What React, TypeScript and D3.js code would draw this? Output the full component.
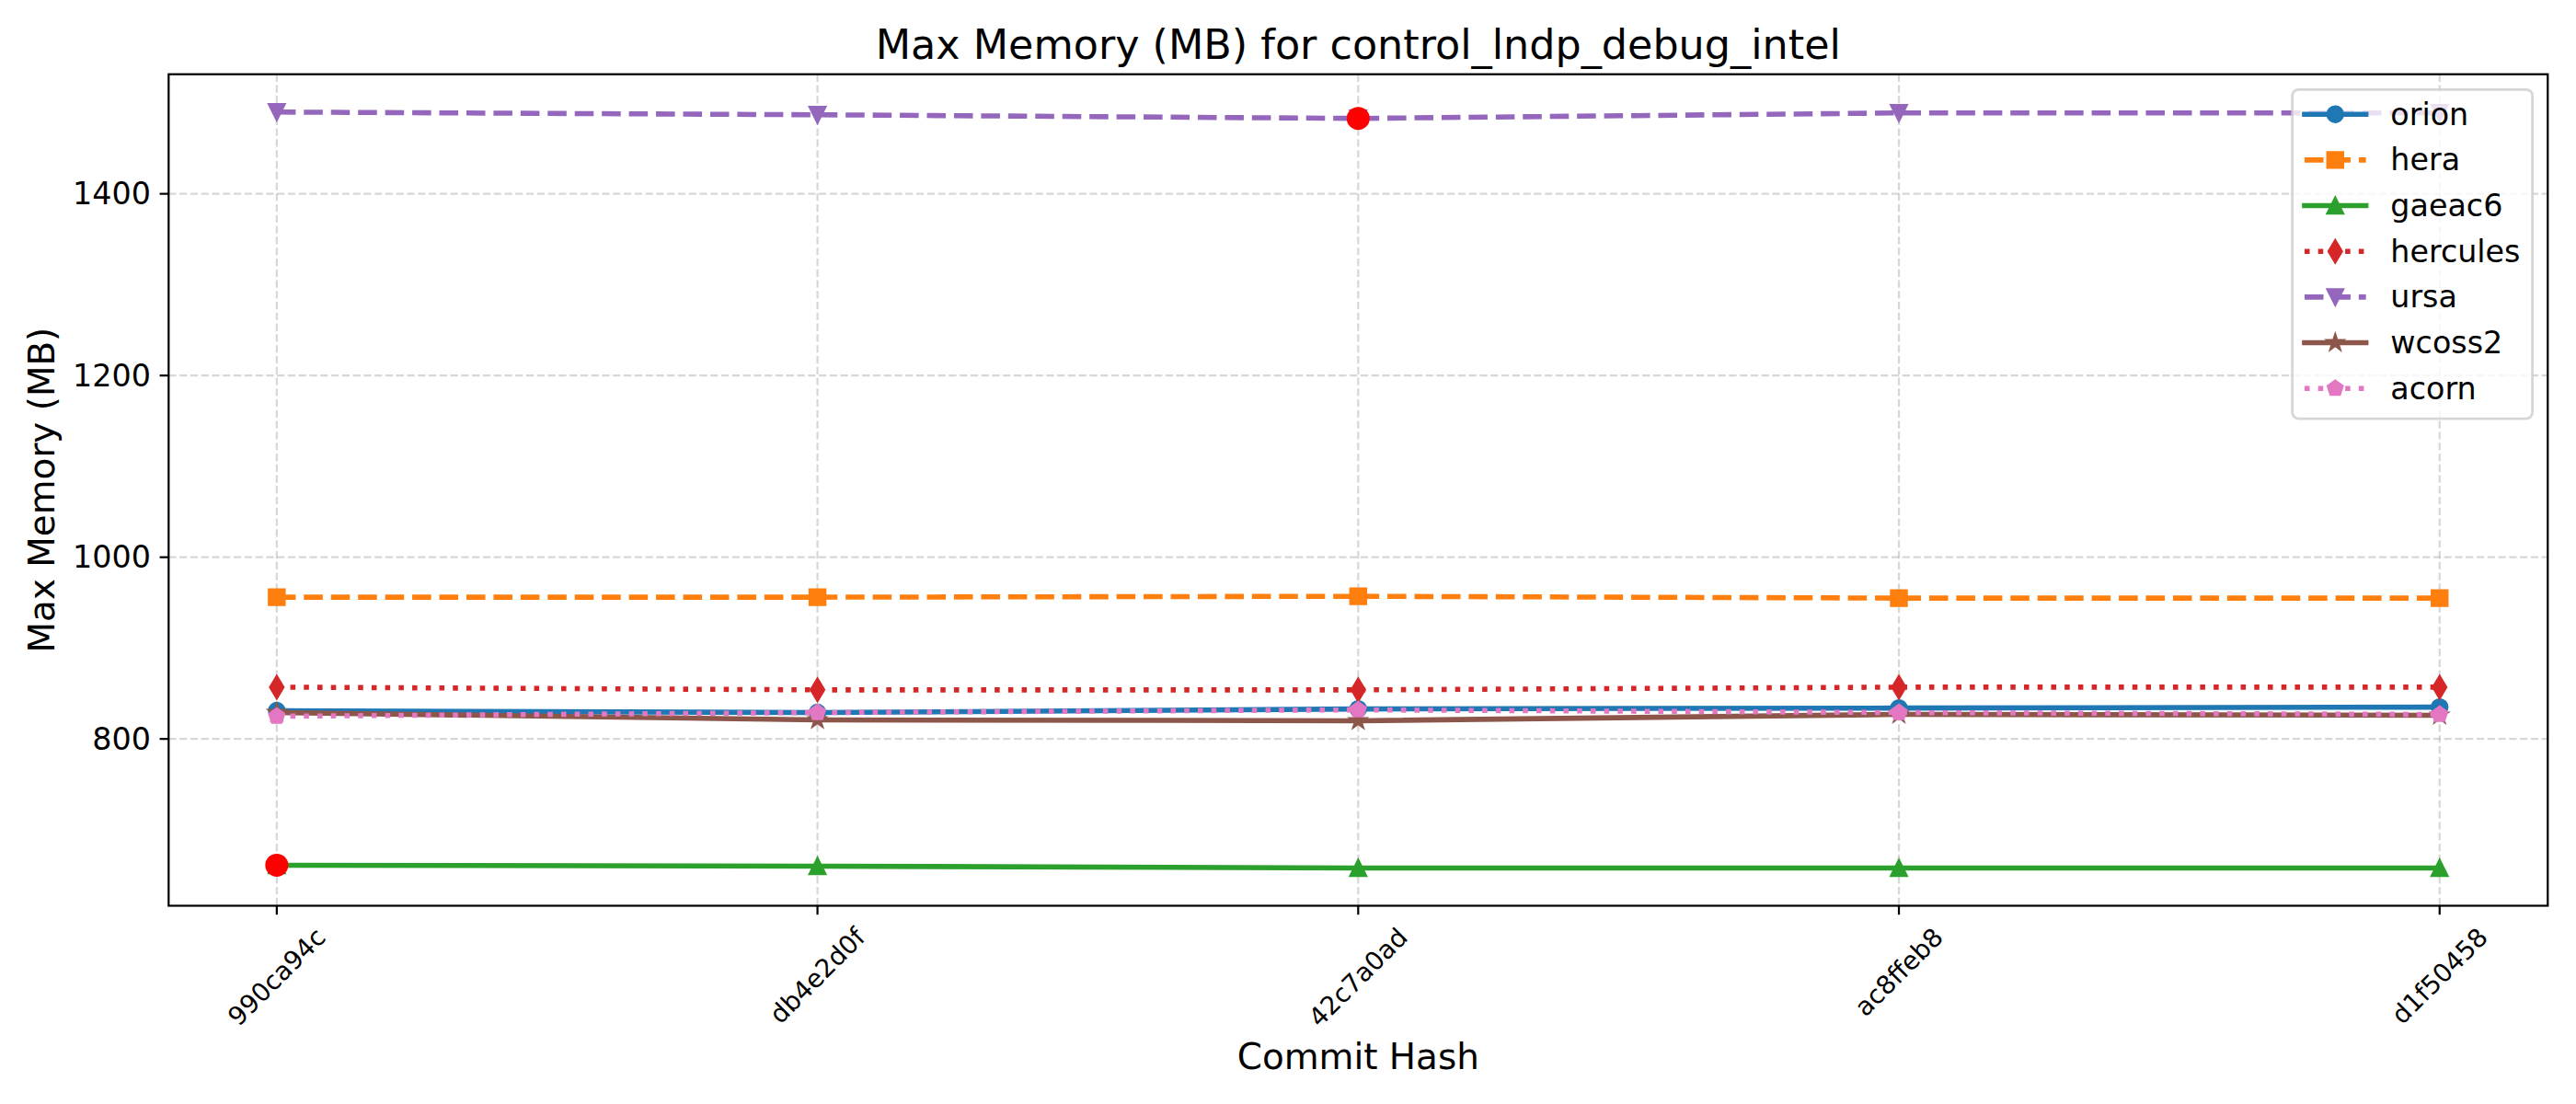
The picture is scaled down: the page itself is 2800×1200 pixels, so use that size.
import React, { useMemo } from 'react';
import * as d3 from 'd3';

const commits = ['990ca94c', 'db4e2d0f', '42c7a0ad', 'ac8ffeb8', 'd1f50458'];
const orion = [831, 829, 833, 834, 835];
const hera = [956, 956, 957, 955, 955];
const gaeac6 = [661, 660, 658, 658, 658];
const hercules = [857, 854, 854, 857, 857];
const ursa = [1490, 1487, 1483, 1489, 1489];
const wcoss2 = [829, 821, 820, 827, 826];
const acorn = [825, 829, 832, 829, 827];
const seriesNames = ['orion', 'hera', 'gaeac6', 'hercules', 'ursa', 'wcoss2', 'acorn'];
const seriesValues = [orion, hera, gaeac6, hercules, ursa, wcoss2, acorn];
const seriesColors = ['#1f77b4', '#ff7f0e', '#2ca02c', '#d62728', '#9467bd', '#8c564b', '#e377c2'];
const seriesMarkers = ['o', 's', '^', 'd', 'v', '*', 'p'];
const seriesDash = ['solid', 'dashed', 'solid', 'dotted', 'dashed', 'solid', 'dotted'];
const highlightSeries = ['gaeac6', 'ursa'];
const highlightIndex = [0, 2];
const yTicks = [800, 1000, 1200, 1400];

const W = 2800;
const H = 1200;
const PT = 200 / 72;
const M = { left: 183.3, right: 2769.3, top: 80.7, bottom: 984.5 };
const FONT = 'DejaVu Sans';
const LW = 2 * PT;
const MS = 6 * PT;
const MEW = 1 * PT;

function dashArray(kind: string): string | undefined {
  if (kind === 'dashed') return `${3.7 * LW} ${1.6 * LW}`;
  if (kind === 'dotted') return `${1 * LW} ${1.65 * LW}`;
  return undefined;
}

function polygon(n: number, r: number, rot = -Math.PI / 2): string {
  const pts: string[] = [];
  for (let i = 0; i < n; i++) {
    const a = rot + (i * 2 * Math.PI) / n;
    pts.push(`${r * Math.cos(a)},${r * Math.sin(a)}`);
  }
  return 'M' + pts.join('L') + 'Z';
}

function star(r: number): string {
  const ri = r * 0.381966;
  const pts: string[] = [];
  for (let i = 0; i < 10; i++) {
    const a = -Math.PI / 2 + (i * Math.PI) / 5;
    const rr = i % 2 === 0 ? r : ri;
    pts.push(`${rr * Math.cos(a)},${rr * Math.sin(a)}`);
  }
  return 'M' + pts.join('L') + 'Z';
}

function markerPath(m: string, ms: number): string {
  const h = ms / 2;
  switch (m) {
    case 'o':
      return `M${h},0A${h},${h} 0 1,1 ${-h},0A${h},${h} 0 1,1 ${h},0Z`;
    case 's':
      return `M${-h},${-h}L${h},${-h}L${h},${h}L${-h},${h}Z`;
    case '^':
      return `M0,${-h}L${-h},${h}L${h},${h}Z`;
    case 'v':
      return `M0,${h}L${-h},${-h}L${h},${-h}Z`;
    case 'd': {
      const dy = ms * Math.SQRT1_2;
      const dx = dy * 0.6;
      return `M0,${-dy}L${dx},0L0,${dy}L${-dx},0Z`;
    }
    case 'p':
      return polygon(5, h);
    case '*':
      return star(h);
    default:
      return '';
  }
}

export default function App() {
  const x = d3.scaleLinear().domain([-0.2, commits.length - 1 + 0.2]).range([M.left, M.right]);
  const all = seriesValues.flat();
  const lo = d3.min(all) as number;
  const hi = d3.max(all) as number;
  const pad = (hi - lo) * 0.05;
  const y = d3.scaleLinear().domain([lo - pad, hi + pad]).range([M.bottom, M.top]);
  const line = d3
    .line<number>()
    .x((_, i) => x(i))
    .y((d) => y(d));

  const xTickFont = 10 * PT;
  const widths = useMemo(() => {
    const c = document.createElement('canvas').getContext('2d');
    if (!c) return commits.map((s) => s.length * 0.6 * xTickFont);
    c.font = `${xTickFont}px "${FONT}"`;
    return commits.map((s) => c.measureText(s).width);
  }, []);

  const tickLen = 3.5 * PT;
  const tickPad = 3.5 * PT;
  const axisLW = 0.8 * PT;

  // legend
  const lfs = 12 * PT;
  const legRight = M.right - 0.5 * lfs;
  const legTop = M.top + 0.5 * lfs;
  const legW = 261;
  const legLeft = legRight - legW;
  const rowH = 33;
  const rowGap = 0.5 * lfs;
  const legH = 2 * 0.4 * lfs + seriesNames.length * rowH + (seriesNames.length - 1) * rowGap;
  const handleX0 = legLeft + 0.4 * lfs;
  const handleX1 = handleX0 + 2 * lfs;
  const textX = handleX1 + 0.8 * lfs;

  return (
    <svg
      width={W}
      height={H}
      viewBox={`0 0 ${W} ${H}`}
      style={{ position: 'absolute', left: 0, top: 0, display: 'block', background: '#fff' }}
      fontFamily={FONT}
    >
      <rect x={0} y={0} width={W} height={H} fill="#fff" />
      {/* grid */}
      <g stroke="#b0b0b0" strokeOpacity={0.5} strokeWidth={0.8 * PT} strokeDasharray={`${3.7 * 0.8 * PT} ${1.6 * 0.8 * PT}`}>
        {commits.map((c, i) => (
          <line key={'gx' + c} x1={x(i)} x2={x(i)} y1={M.top} y2={M.bottom} />
        ))}
        {yTicks.map((t) => (
          <line key={'gy' + t} x1={M.left} x2={M.right} y1={y(t)} y2={y(t)} />
        ))}
      </g>
      {/* series */}
      {seriesNames.map((name, si) => (
        <g key={name}>
          <path
            d={line(seriesValues[si]) || ''}
            fill="none"
            stroke={seriesColors[si]}
            strokeWidth={LW}
            strokeDasharray={dashArray(seriesDash[si])}
            strokeLinejoin="round"
            strokeLinecap={seriesDash[si] === 'solid' ? 'square' : 'butt'}
          />
          {seriesValues[si].map((v, i) => (
            <path
              key={i}
              d={markerPath(seriesMarkers[si], MS)}
              transform={`translate(${x(i)},${y(v)})`}
              fill={seriesColors[si]}
              stroke={seriesColors[si]}
              strokeWidth={MEW}
              strokeLinejoin="miter"
            />
          ))}
        </g>
      ))}
      {/* highlights */}
      {highlightSeries.map((name, k) => {
        const si = seriesNames.indexOf(name);
        const idx = highlightIndex[k];
        return <circle key={'h' + k} cx={x(idx)} cy={y(seriesValues[si][idx])} r={12.5} fill="#ff0000" />;
      })}
      {/* spines */}
      <rect
        x={M.left}
        y={M.top}
        width={M.right - M.left}
        height={M.bottom - M.top}
        fill="none"
        stroke="#000"
        strokeWidth={axisLW}
        strokeLinejoin="miter"
      />
      {/* y ticks */}
      {yTicks.map((t) => (
        <g key={'yt' + t}>
          <line x1={M.left - tickLen} x2={M.left} y1={y(t)} y2={y(t)} stroke="#000" strokeWidth={axisLW} />
          <text
            x={M.left - tickLen - tickPad}
            y={y(t)}
            textAnchor="end"
            dominantBaseline="central"
            fontSize={12 * PT}
            fill="#000"
          >
            {t}
          </text>
        </g>
      ))}
      {/* x ticks */}
      {commits.map((c, i) => {
        const w = widths[i];
        const h = xTickFont * 1.0;
        const bb = (w + h) * Math.SQRT1_2;
        const cy = M.bottom + tickLen + tickPad + bb / 2;
        return (
          <g key={'xt' + c}>
            <line x1={x(i)} x2={x(i)} y1={M.bottom} y2={M.bottom + tickLen} stroke="#000" strokeWidth={axisLW} />
            <text
              transform={`translate(${x(i)},${cy}) rotate(-45)`}
              textAnchor="middle"
              dominantBaseline="central"
              fontSize={xTickFont}
              fill="#000"
            >
              {c}
            </text>
          </g>
        );
      })}
      {/* title & labels */}
      <text x={(M.left + M.right) / 2} y={M.top - 6 * PT} textAnchor="middle" fontSize={16 * PT} fill="#000">
        Max Memory (MB) for control_lndp_debug_intel
      </text>
      <text x={(M.left + M.right) / 2} y={1148} textAnchor="middle" dominantBaseline="central" fontSize={14 * PT} fill="#000">
        Commit Hash
      </text>
      <text
        transform={`translate(45,${(M.top + M.bottom) / 2}) rotate(-90)`}
        textAnchor="middle"
        dominantBaseline="central"
        fontSize={14 * PT}
        fill="#000"
      >
        Max Memory (MB)
      </text>
      {/* legend */}
      <g>
        <rect
          x={legLeft}
          y={legTop}
          width={legW}
          height={legH}
          rx={0.2 * lfs}
          ry={0.2 * lfs}
          fill="#fff"
          fillOpacity={0.8}
          stroke="#cccccc"
          strokeOpacity={0.8}
          strokeWidth={1 * PT}
        />
        {seriesNames.map((name, si) => {
          const cy = legTop + 0.4 * lfs + si * (rowH + rowGap) + rowH / 2 - 3;
          return (
            <g key={'lg' + name}>
              <line
                x1={handleX0}
                x2={handleX1}
                y1={cy}
                y2={cy}
                stroke={seriesColors[si]}
                strokeWidth={LW}
                strokeDasharray={dashArray(seriesDash[si])}
                strokeLinecap={seriesDash[si] === 'solid' ? 'square' : 'butt'}
              />
              <path
                d={markerPath(seriesMarkers[si], MS)}
                transform={`translate(${(handleX0 + handleX1) / 2},${cy})`}
                fill={seriesColors[si]}
                stroke={seriesColors[si]}
                strokeWidth={MEW}
              />
              <text x={textX} y={cy + 11.5} fontSize={lfs} fill="#000">
                {name}
              </text>
            </g>
          );
        })}
      </g>
    </svg>
  );
}
